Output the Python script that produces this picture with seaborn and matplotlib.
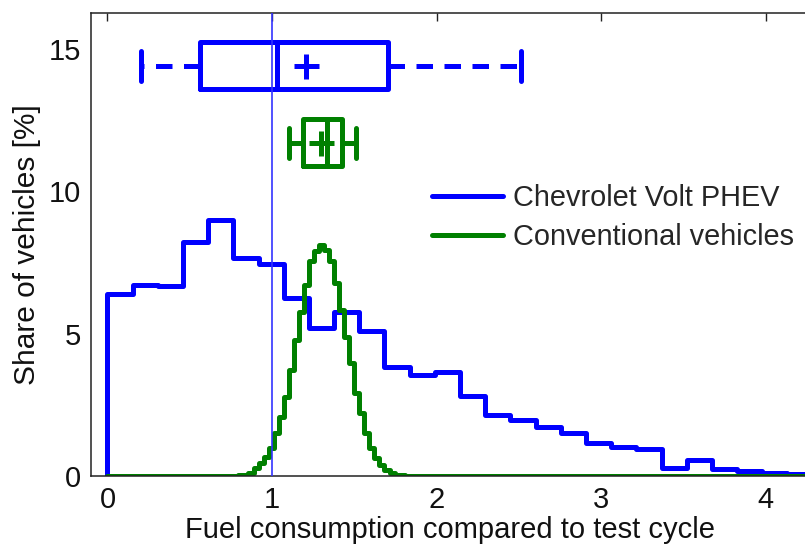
import numpy as np
import pandas as pd
import matplotlib
matplotlib.use("Agg")
import matplotlib.pyplot as plt
import seaborn as sns

# ---------------- data ----------------
volt_bin_width = 0.153
volt_share = [6.38, 6.71, 6.67, 8.20, 8.99, 7.65, 7.44, 6.24, 5.21, 5.74,
              5.09, 3.84, 3.55, 3.66, 2.82, 2.14, 1.97, 1.73, 1.50, 1.17,
              1.03, 0.95, 0.29, 0.56, 0.23, 0.16, 0.10, 0.08, 0.06]

conv_bin_width = 0.0306
conv_first_bin = 26
conv_total_bins = 148
conv_share = [0.02, 0.05, 0.12, 0.27, 0.45, 0.68, 0.97, 1.50, 2.08, 2.79,
              3.72, 4.78, 5.77, 6.71, 7.53, 7.88, 8.11, 7.94, 7.53, 6.77,
              5.83, 4.89, 3.96, 2.90, 2.20, 1.50, 0.97, 0.62, 0.39, 0.21,
              0.09, 0.04, 0.02]

labels = ["Chevrolet Volt PHEV", "Conventional vehicles"]

volt_box = dict(whislo=0.202, q1=0.563, med=1.028, q3=1.707, whishi=2.513, mean=1.207)
conv_box = dict(whislo=1.100, q1=1.188, med=1.333, q3=1.424, whishi=1.508, mean=1.300)
box_rows = [14.4, 11.7]

x_ticks = [0, 1, 2, 3, 4]
y_ticks = [0, 5, 10, 15]
xlabel = "Fuel consumption compared to test cycle"
ylabel = "Share of vehicles [%]"

BLUE = "#0000ff"
GREEN = "#008000"

# ---------------- build tables ----------------
volt_edges = (np.arange(len(volt_share) + 1) * volt_bin_width).tolist()
volt_df = pd.DataFrame({"x": np.array(volt_edges[:-1]) + volt_bin_width / 2,
                        "w": volt_share})

conv_full = np.zeros(conv_total_bins)
conv_full[conv_first_bin:conv_first_bin + len(conv_share)] = conv_share
conv_edges = (np.arange(conv_total_bins + 1) * conv_bin_width).tolist()
conv_df = pd.DataFrame({"x": np.array(conv_edges[:-1]) + conv_bin_width / 2,
                        "w": conv_full})

# ---------------- figure ----------------
sns.set_theme(style="white")
plt.rcParams["font.family"] = ["Liberation Sans", "DejaVu Sans"]
plt.rcParams["axes.edgecolor"] = "#222222"
plt.rcParams["axes.linewidth"] = 1.1

fig = plt.figure(figsize=(8.05, 5.46), dpi=100)
ax = fig.add_axes([91 / 805, 70 / 546, 718 / 805, 463 / 546])

LW = 3.6
sns.histplot(data=volt_df, x="x", weights="w", bins=volt_edges, element="step",
             fill=False, color=BLUE, linewidth=LW, ax=ax, label=labels[0])
# rising edge of the first bar (the step outline starts at the axis)
ax.plot([volt_edges[0], volt_edges[0]], [0, volt_share[0]], color=BLUE,
        linewidth=LW, solid_capstyle="butt")
sns.histplot(data=conv_df, x="x", weights="w", bins=conv_edges, element="step",
             fill=False, color=GREEN, linewidth=LW, ax=ax, label=labels[1])

for stats, pos, col in zip([volt_box, conv_box], box_rows, [BLUE, GREEN]):
    st = dict(stats)
    st["fliers"] = []
    ax.bxp([st], positions=[pos], widths=1.64, capwidths=1.05,
           orientation="horizontal", showmeans=True, showfliers=False,
           manage_ticks=False,
           boxprops=dict(color=col, linewidth=LW),
           medianprops=dict(color=col, linewidth=LW),
           whiskerprops=dict(color=col, linewidth=LW, linestyle=(0, (3.3, 2.3))),
           capprops=dict(color=col, linewidth=LW),
           meanprops=dict(marker="+", markersize=18, markeredgewidth=LW,
                          markeredgecolor=col, color=col))

ax.axvline(1, color="#3333ff", linewidth=1.2, zorder=5)

ax.set_xlim(-0.1, 4.262)
ax.set_ylim(0, 16.25)
ax.set_xticks(x_ticks)
ax.set_yticks(y_ticks)
ax.set_xticklabels([str(t) for t in x_ticks])
ax.set_yticklabels([str(t) for t in y_ticks])
ax.tick_params(axis="both", direction="in", length=5.5, width=1.0,
               labelsize=21, colors="#222222", labelcolor="#111111",
               top=True, right=False, pad=7)
ax.set_xlabel(xlabel, fontsize=21, color="#111111", labelpad=2)
ax.set_ylabel(ylabel, fontsize=21.5, color="#111111", labelpad=6)

ax.legend(loc="upper left", bbox_to_anchor=(0.475, 0.630), frameon=False,
          fontsize=20.8, handlelength=2.45, handletextpad=0.35,
          labelspacing=0.38, borderpad=0, borderaxespad=0)

fig.savefig("out.png", dpi=100)
